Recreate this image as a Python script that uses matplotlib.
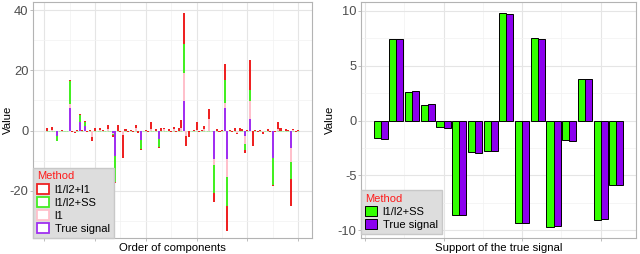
import matplotlib
matplotlib.use("Agg")
import matplotlib.pyplot as plt
from matplotlib.patches import Patch
from matplotlib.ticker import MultipleLocator
import numpy as np

plt.rcParams['font.family'] = ['Liberation Sans', 'DejaVu Sans']

# ---------------- data ----------------
n_components = 100
support_idx = [5, 10, 14, 16, 27, 28, 38, 45, 55, 67, 71, 72, 79, 81, 90, 97]
true_vals = [-1.7, 7.4, 2.7, 1.5, -0.7, -8.6, -3.0, -2.8, 9.7, -9.3, 7.4, -9.6, -1.9, 3.8, -9.0, -5.9]
ss_vals = [-1.6, 7.4, 2.6, 1.4, -0.6, -8.6, -2.9, -2.8, 9.8, -9.3, 7.5, -9.7, -1.8, 3.8, -9.1, -5.9]

l1_nonzero = {3: 0.3, 5: -0.1, 8: -0.3, 10: 1.5, 12: -0.5, 19: -2.0, 22: 0.3, 25: 0.5,
              27: -0.3, 31: -1.5, 33: -0.3, 36: 1.0, 38: -0.3, 42: 0.5, 47: 0.4, 51: 0.5,
              54: 1.0, 55: 9.3, 56: -1.8, 60: 0.3, 63: 0.4, 65: 3.9, 67: -2.2, 71: 1.9,
              72: -5.9, 74: -0.3, 76: -0.8, 79: -2.7, 81: 6.0, 86: -0.4, 92: 0.5, 97: -4.4, 98: 0.2}

l1l2l1_nonzero = {1: 0.9, 2: -0.3, 3: 0.8, 4: -0.3, 5: -0.2, 7: 0.2, 9: -0.2, 10: 0.5, 11: -0.4,
                  12: -0.4, 13: 0.3, 14: 0.3, 15: 0.2, 16: 0.3, 17: -0.4, 18: 0.3, 19: -1.5,
                  20: 0.7, 21: -0.2, 22: 0.6, 23: 0.3, 24: -0.3, 25: 1.3, 26: -0.3, 27: -0.4,
                  28: -0.2, 29: 1.7, 30: -0.5, 31: -7.5, 32: 0.5, 33: -0.3, 34: 0.3, 35: -0.6,
                  36: 0.8, 37: -0.8, 38: -0.3, 39: -0.3, 40: 0.2, 41: -0.4, 42: 2.5, 43: -0.3,
                  44: 0.5, 45: -0.2, 46: 0.8, 47: 0.6, 48: -0.3, 49: 0.5, 50: -0.4, 51: 0.8,
                  52: -0.6, 53: 0.8, 54: 2.5, 55: 10.4, 56: -3.5, 57: -2.0, 58: -0.3, 59: 0.3,
                  60: 2.4, 61: -0.5, 62: 0.2, 63: 1.0, 64: -0.3, 65: 3.3, 66: -0.3, 67: -3.0,
                  68: 0.4, 69: -0.5, 70: 0.3, 71: 5.4, 72: -8.1, 73: 0.3, 74: -0.3, 75: 0.8,
                  76: -0.5, 77: 1.0, 78: 0.5, 79: -1.0, 80: 0.3, 81: 9.8, 82: -5.0, 83: 0.3,
                  84: -0.5, 85: 0.3, 86: -0.8, 87: -0.3, 88: 0.5, 89: -0.6, 90: -0.2, 91: -0.5,
                  92: 2.2, 93: 0.8, 94: -0.3, 95: 0.5, 96: 0.3, 97: -8.8, 98: 0.4, 99: -0.4, 100: 0.3}

methods = ["l1/l2+l1", "l1/l2+SS", "l1", "True signal"]
colors = {"l1/l2+l1": "#EE2222", "l1/l2+SS": "#44EE22", "l1": "#FFC0CB", "True signal": "#A030F0"}

# full series
comp = np.arange(1, n_components + 1)
true_full = np.zeros(n_components)
ss_full = np.zeros(n_components)
for i, t, s in zip(support_idx, true_vals, ss_vals):
    true_full[i - 1] = t
    ss_full[i - 1] = s
l1_full = np.zeros(n_components)
for k, v in l1_nonzero.items():
    l1_full[k - 1] = v
red_full = np.zeros(n_components)
for k, v in l1l2l1_nonzero.items():
    red_full[k - 1] = v

series = {"True signal": true_full, "l1": l1_full, "l1/l2+SS": ss_full, "l1/l2+l1": red_full}

# ---------------- figure ----------------
fig = plt.figure(figsize=(6.4, 2.54), dpi=100)
H = 254.0
W = 640.0
ax1 = fig.add_axes([33 / W, (H - 238) / H, 279 / W, 236 / H])
ax2 = fig.add_axes([361 / W, (H - 238) / H, 275 / W, 236 / H])

border_c = "#B3B3B3"
TICK_FS = 9.3
TITLE_FS = 8.2
LEG_FS = 8.0

def style(ax):
    ax.set_facecolor("white")
    ax.set_axisbelow(True)
    ax.grid(True, which="major", color="#E5E5E5", lw=0.8)
    ax.grid(True, which="minor", color="#F2F2F2", lw=0.5)
    for sp in ax.spines.values():
        sp.set_color(border_c)
        sp.set_linewidth(0.8)
    ax.tick_params(axis="both", which="major", colors=border_c, length=2.5, width=0.6,
                   labelcolor="#4D4D4D", labelsize=TICK_FS, pad=0.8)
    ax.tick_params(axis="both", which="minor", length=0)
    ax.set_xticklabels([])

# left: stacked bars
# zero-height outline of the l1/l2+SS bars (as ggplot draws it)
zero_mask = ss_full == 0
ax1.bar(comp[zero_mask], ss_full[zero_mask], width=0.8, facecolor="none",
        edgecolor="#A8E8A0", lw=0.7)
pos_base = np.zeros(n_components)
neg_base = np.zeros(n_components)
for m in ["True signal", "l1", "l1/l2+SS", "l1/l2+l1"]:
    v = series[m]
    pos = np.where(v > 0, v, 0)
    neg = np.where(v < 0, v, 0)
    pm = pos != 0
    nm = neg != 0
    ax1.bar(comp[pm], pos[pm], bottom=pos_base[pm], width=0.8, color=colors[m], lw=0)
    ax1.bar(comp[nm], neg[nm], bottom=neg_base[nm], width=0.8, color=colors[m], lw=0)
    pos_base += pos
    neg_base += neg

ax1.set_xlim(-4.4, 105.4)
ax1.set_ylim(-35.7, 42.7)
ax1.xaxis.set_major_locator(MultipleLocator(20))
ax1.xaxis.set_minor_locator(MultipleLocator(10))
ax1.yaxis.set_major_locator(MultipleLocator(20))
ax1.yaxis.set_minor_locator(MultipleLocator(10))
style(ax1)
ax1.set_yticks([-20, 0, 20, 40])
ax1.set_yticklabels(["-20", "0", "20", "40"])
ax1.set_xlabel("Order of components", fontsize=TITLE_FS, color="black", labelpad=0)
ax1.set_ylabel("Value", fontsize=TITLE_FS, color="black")
ax1.yaxis.set_label_coords((12.5 - 33) / 279, 0.5)

handles1 = [Patch(facecolor="white", edgecolor=colors[m], lw=1.3, label=m) for m in methods]
leg_kw = dict(borderaxespad=0, frameon=True, fancybox=False,
              facecolor="#DDDDDD", edgecolor="#C8C8C8", fontsize=LEG_FS,
              title_fontsize=LEG_FS, handlelength=1.05, handleheight=1.05,
              handletextpad=0.55, labelspacing=0.2, borderpad=0.35, alignment="left")
leg1 = ax1.legend(handles=handles1, title="Method", loc="lower left", **leg_kw)
leg1.get_title().set_color("#FF1A1A")
leg1.get_frame().set_alpha(1)

# right: dodged bars
x2 = np.arange(1, len(support_idx) + 1)
bw = 0.45
ax2.bar(x2 - bw / 2, ss_vals, width=bw, color="#33FF00", edgecolor="black", lw=0.7, label="l1/l2+SS")
ax2.bar(x2 + bw / 2, true_vals, width=bw, color="#8B00EE", edgecolor="black", lw=0.7, label="True signal")
ax2.set_xlim(-0.25, 17.25)
ax2.set_ylim(-10.7, 10.8)
ax2.xaxis.set_major_locator(MultipleLocator(5))
ax2.xaxis.set_minor_locator(MultipleLocator(2.5))
ax2.yaxis.set_major_locator(MultipleLocator(5))
ax2.yaxis.set_minor_locator(MultipleLocator(2.5))
style(ax2)
ax2.set_yticks([-10, -5, 0, 5, 10])
ax2.set_yticklabels(["-10", "-5", "0", "5", "10"])
ax2.set_xlabel("Support of the true signal", fontsize=TITLE_FS, color="black", labelpad=0)
ax2.set_ylabel("Value", fontsize=TITLE_FS, color="black")
ax2.yaxis.set_label_coords((335 - 361) / 275, 0.5)
leg2 = ax2.legend(title="Method", loc="lower left", bbox_to_anchor=(0.0, 0.018), **leg_kw)
leg2.get_title().set_color("#FF1A1A")
leg2.get_frame().set_alpha(1)

fig.savefig("out.png", dpi=100)
